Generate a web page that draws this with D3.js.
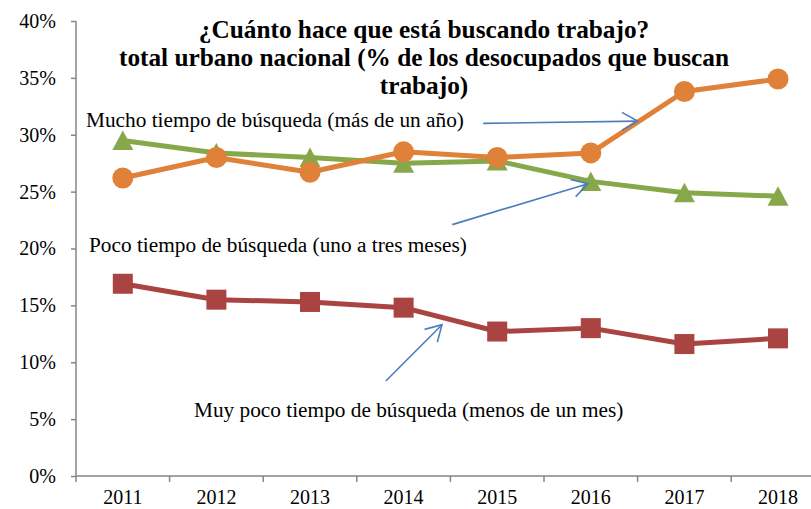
<!DOCTYPE html>
<html>
<head>
<meta charset="utf-8">
<script src="https://cdn.jsdelivr.net/npm/d3@7"></script>
<style>
  body { margin: 0; background: #fff; }
  text { font-family: "Liberation Serif", "Times New Roman", serif; fill: #000; }
</style>
</head>
<body>
<div id="chart"></div>
<script>
//***************** data *******************/
var years = ["2011", "2012", "2013", "2014", "2015", "2016", "2017", "2018"];
var yTicks = [0, 5, 10, 15, 20, 25, 30, 35, 40];

var muchoTiempo = [26.2, 28.0, 26.7, 28.5, 28.0, 28.4, 33.8, 34.9];    // más de un año
var pocoTiempo = [29.5, 28.4, 28.0, 27.5, 27.7, 25.9, 24.9, 24.6];     // uno a tres meses
var muyPocoTiempo = [16.9, 15.5, 15.3, 14.8, 12.7, 13.0, 11.6, 12.1];  // menos de un mes

var titleLines = [
  "¿Cuánto hace que está buscando trabajo?",
  "total urbano nacional (% de los desocupados que buscan",
  "trabajo)"
];

//************* set dimensions ***************/
var W = 811, H = 509;
var margin = {left: 76, top: 21, bottom: 33};
var band = 93.6;

var svg = d3.select("#chart")
  .append("svg")
    .attr("width", W)
    .attr("height", H);

//***************** scales *******************/
var x = d3.scaleBand()
  .domain(years)
  .range([margin.left, margin.left + band * years.length])
  .padding(0);

var y = d3.scaleLinear()
  .domain([0, 40])
  .range([H - margin.bottom, margin.top]);

// fractional category position (index -> pixel), used for the arrows
function xi(i) { return x(years[0]) + x.bandwidth() * (i + 0.5); }

//***************** axes *******************/
var axisColor = "#868686";

var yAxis = svg.append("g")
  .attr("transform", "translate(" + margin.left + ",0)")
  .call(d3.axisLeft(y)
    .tickValues(yTicks)
    .tickSize(5)
    .tickPadding(15)
    .tickFormat(function(d) { return d + "%"; }));
yAxis.select(".domain").attr("stroke", axisColor).attr("stroke-width", 1.5)
  .attr("d", "M0," + y(40) + "V" + y(0));
yAxis.selectAll(".tick line").attr("stroke", axisColor).attr("stroke-width", 1.5);
yAxis.selectAll(".tick text")
  .attr("font-size", "20px")
  .attr("fill", "#000");

var xAxis = svg.append("g")
  .attr("transform", "translate(0," + y(0) + ")")
  .call(d3.axisBottom(x).tickSize(0));
xAxis.select(".domain").attr("stroke", axisColor).attr("stroke-width", 1.5)
  .attr("d", "M" + margin.left + ",0H" + W);
xAxis.selectAll(".tick text")
  .attr("y", 28)
  .attr("dy", 0)
  .attr("font-size", "20px")
  .attr("fill", "#000");

// tick marks between categories (Excel style)
xAxis.selectAll(".sep")
  .data(years)
  .enter()
  .append("line")
    .attr("class", "sep")
    .attr("x1", function(d) { return x(d); })
    .attr("x2", function(d) { return x(d); })
    .attr("y1", 0)
    .attr("y2", 6)
    .attr("stroke", axisColor)
    .attr("stroke-width", 1.5);

//***************** series *******************/
var line = d3.line()
  .x(function(d, i) { return x(years[i]) + x.bandwidth() / 2; })
  .y(function(d) { return y(d); });

function drawSeries(values, color, shape) {
  var g = svg.append("g");
  g.append("path")
    .datum(values)
    .attr("d", line)
    .attr("fill", "none")
    .attr("stroke", color)
    .attr("stroke-width", 5)
    .attr("stroke-linejoin", "round");

  var pts = g.selectAll(".pt")
    .data(values)
    .enter()
    .append("g")
      .attr("transform", function(d, i) {
        return "translate(" + (x(years[i]) + x.bandwidth() / 2) + "," + y(d) + ")";
      });

  if (shape == "circle") {
    pts.append("circle").attr("r", 10.5).attr("fill", color);
  } else if (shape == "square") {
    pts.append("rect").attr("x", -10).attr("y", -10)
      .attr("width", 20).attr("height", 20).attr("fill", color);
  } else {
    pts.append("path").attr("d", "M0,-10L10.5,9.5L-10.5,9.5Z").attr("fill", color);
  }
}

drawSeries(pocoTiempo, "#86a84b", "triangle");
drawSeries(muchoTiempo, "#df8139", "circle");
drawSeries(muyPocoTiempo, "#a94442", "square");

//***************** title *******************/
svg.append("g")
  .selectAll("text")
  .data(titleLines)
  .enter()
  .append("text")
    .attr("x", 424)
    .attr("y", function(d, i) { return 38 + i * 27.8; })
    .attr("text-anchor", "middle")
    .attr("font-size", "25.3px")
    .attr("font-weight", "bold")
    .text(function(d) { return d; });

//***************** annotations *******************/
var labels = [
  {text: "Mucho tiempo de búsqueda (más de un año)", x: 86, y: 127},
  {text: "Poco tiempo de búsqueda (uno a tres meses)", x: 89, y: 252},
  {text: "Muy poco tiempo de búsqueda (menos de un mes)", x: 194, y: 417}
];
svg.append("g")
  .selectAll("text")
  .data(labels)
  .enter()
  .append("text")
    .attr("x", function(d) { return d.x; })
    .attr("y", function(d) { return d.y; })
    .attr("font-size", "21.3px")
    .text(function(d) { return d.text; });

// arrows, in category index / value units
var arrows = [
  {x0: 3.85, y0: 31.0, x1: 5.50, y1: 31.2},
  {x0: 3.52, y0: 22.1, x1: 4.97, y1: 25.7},
  {x0: 2.81, y0: 8.35, x1: 3.41, y1: 13.3}
];
var arrowColor = "#4a7ebb";
arrows.forEach(function(a) {
  var sx = xi(a.x0), sy = y(a.y0), ex = xi(a.x1), ey = y(a.y1);
  var ang = Math.atan2(ey - sy, ex - sx);
  var len = 18, spread = Math.PI / 6;
  var g = svg.append("g")
    .attr("stroke", arrowColor)
    .attr("stroke-width", 1.6)
    .attr("fill", "none");
  g.append("line").attr("x1", sx).attr("y1", sy).attr("x2", ex).attr("y2", ey);
  g.append("path")
    .attr("d",
      "M" + (ex - len * Math.cos(ang - spread)) + "," + (ey - len * Math.sin(ang - spread)) +
      "L" + ex + "," + ey +
      "L" + (ex - len * Math.cos(ang + spread)) + "," + (ey - len * Math.sin(ang + spread)));
});
</script>
</body>
</html>
